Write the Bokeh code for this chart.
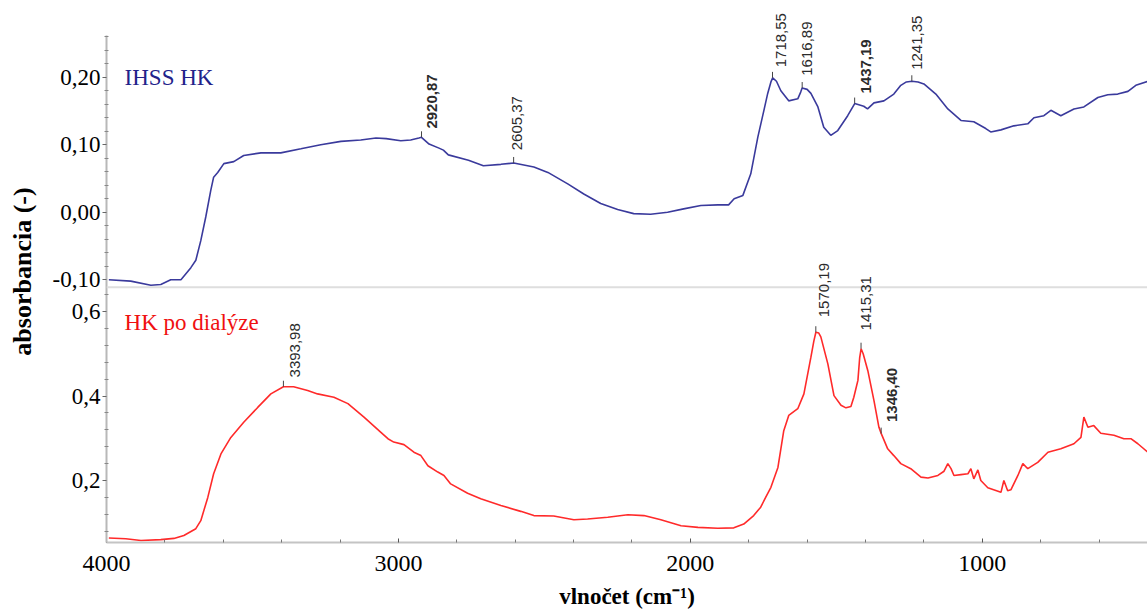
import math
from bokeh.plotting import figure
from bokeh.models import Range1d, FixedTicker, Span, Label, LabelSet, ColumnDataSource
from bokeh.core.properties import value
from bokeh.embed import file_html
from bokeh.resources import INLINE

# ---------------- data ----------------
IHSS_WN = [3992, 3917, 3848, 3814, 3780, 3745, 3711, 3694, 3677, 3660, 3643, 3633, 3619, 3598,
           3564, 3530, 3471, 3403, 3334, 3266, 3197, 3129, 3077, 3042, 2992, 2958, 2930, 2921,
           2895, 2861, 2846, 2829, 2760, 2709, 2649, 2605, 2536, 2488, 2420, 2365, 2307, 2249,
           2194, 2136, 2078, 2023, 1964, 1906, 1869, 1850, 1820, 1793, 1769, 1748, 1735, 1724,
           1718, 1705, 1690, 1663, 1632, 1622, 1617, 1600, 1587, 1563, 1543, 1519, 1495, 1461,
           1437, 1406, 1393, 1371, 1337, 1303, 1279, 1260, 1241, 1220, 1200, 1159, 1118, 1073,
           1029, 988, 971, 936, 892, 844, 823, 789, 765, 731, 686, 652, 604, 570, 536, 501, 474,
           433]
IHSS_ABS = [-0.100, -0.102, -0.108, -0.107, -0.100, -0.100, -0.082, -0.071, -0.042, -0.007,
            0.032, 0.052, 0.059, 0.072, 0.075, 0.084, 0.088, 0.088, 0.094, 0.100, 0.105, 0.107,
            0.110, 0.109, 0.106, 0.107, 0.110, 0.111, 0.101, 0.095, 0.092, 0.085, 0.077, 0.069,
            0.071, 0.073, 0.067, 0.059, 0.042, 0.027, 0.013, 0.004, -0.002, -0.003, 0.000, 0.005,
            0.010, 0.011, 0.011, 0.020, 0.025, 0.057, 0.111, 0.151, 0.176, 0.193, 0.199, 0.194,
            0.180, 0.165, 0.168, 0.178, 0.184, 0.182, 0.176, 0.156, 0.126, 0.114, 0.121, 0.143,
            0.161, 0.157, 0.153, 0.162, 0.165, 0.175, 0.188, 0.193, 0.194, 0.193, 0.190, 0.175,
            0.153, 0.136, 0.134, 0.124, 0.119, 0.122, 0.128, 0.131, 0.140, 0.143, 0.151, 0.143,
            0.153, 0.156, 0.170, 0.174, 0.175, 0.179, 0.188, 0.194]

DIAL_WN = [3992, 3934, 3882, 3814, 3769, 3735, 3694, 3677, 3653, 3633, 3608, 3574, 3530, 3482,
           3437, 3394, 3359, 3311, 3277, 3221, 3173, 3118, 3060, 3036, 3016, 2981, 2947, 2923,
           2899, 2865, 2844, 2821, 2763, 2718, 2649, 2581, 2536, 2468, 2399, 2352, 2283, 2214,
           2159, 2101, 2032, 1974, 1906, 1851, 1817, 1783, 1759, 1742, 1724, 1700, 1680, 1663,
           1632, 1611, 1587, 1577, 1570, 1560, 1553, 1529, 1508, 1484, 1467, 1450, 1440, 1426,
           1420, 1415, 1408, 1392, 1371, 1354, 1346, 1324, 1303, 1279, 1245, 1210, 1186, 1152,
           1131, 1118, 1107, 1097, 1073, 1049, 1039, 1029, 1015, 1005, 981, 936, 926, 913, 902,
           878, 861, 844, 810, 775, 731, 686, 662, 652, 638, 618, 594, 549, 515, 491, 467, 433]
DIAL_ABS = [0.064, 0.062, 0.058, 0.060, 0.063, 0.070, 0.086, 0.105, 0.160, 0.216, 0.263, 0.302,
            0.338, 0.373, 0.405, 0.422, 0.422, 0.413, 0.405, 0.397, 0.382, 0.350, 0.314, 0.299,
            0.291, 0.285, 0.267, 0.259, 0.235, 0.220, 0.212, 0.192, 0.170, 0.157, 0.141, 0.127,
            0.117, 0.116, 0.107, 0.109, 0.113, 0.119, 0.117, 0.107, 0.093, 0.089, 0.087, 0.088,
            0.097, 0.117, 0.137, 0.160, 0.184, 0.231, 0.318, 0.354, 0.370, 0.405, 0.492, 0.530,
            0.551, 0.549, 0.540, 0.476, 0.401, 0.378, 0.372, 0.375, 0.397, 0.437, 0.490, 0.512,
            0.500, 0.460, 0.389, 0.326, 0.311, 0.275, 0.259, 0.240, 0.228, 0.208, 0.206, 0.212,
            0.222, 0.240, 0.228, 0.212, 0.214, 0.216, 0.228, 0.204, 0.225, 0.200, 0.183, 0.172,
            0.200, 0.176, 0.178, 0.212, 0.240, 0.228, 0.243, 0.267, 0.275, 0.287, 0.302, 0.350,
            0.326, 0.330, 0.312, 0.307, 0.299, 0.299, 0.287, 0.267]

# peak annotations
IHSS_PEAK_WN = [2920.87, 2605.37, 1718.55, 1616.89, 1437.19, 1241.35]
IHSS_PEAK_ABS = [0.111, 0.073, 0.199, 0.184, 0.161, 0.194]
IHSS_PEAK_TXT = ["2920,87", "2605,37", "1718,55", "1616,89", "1437,19", "1241,35"]
DIAL_PEAK_WN = [3393.98, 1570.19, 1415.31, 1346.40]
DIAL_PEAK_ABS = [0.422, 0.551, 0.512, 0.311]
DIAL_PEAK_TXT = ["3393,98", "1570,19", "1415,31", "1346,40"]

# axis ticks / labels
X_TICKS = [4000, 3000, 2000, 1000]
X_MINOR = [3800, 3600, 3400, 3200, 2800, 2600, 2400, 2200, 1800, 1600, 1400, 1200, 800, 600]
TOP_TICKS = [-0.10, 0.00, 0.10, 0.20]
TOP_TICK_LABELS = ["-0,10", "0,00", "0,10", "0,20"]
TOP_MINOR = [-0.08, -0.06, -0.04, -0.02, 0.02, 0.04, 0.06, 0.08, 0.12, 0.14, 0.16, 0.18,
             0.22, 0.24, 0.26]
BOT_TICKS = [0.2, 0.4, 0.6]
BOT_TICK_LABELS = ["0,2", "0,4", "0,6"]
BOT_MINOR = [0.08, 0.12, 0.16, 0.24, 0.28, 0.32, 0.36, 0.44, 0.48, 0.52, 0.56, 0.64]

# ---------------- layout / style ----------------
FRAME_H = 542
X_START, X_END = 4000, 434
TOP_END = 0.3136
TOP_START = TOP_END - FRAME_H / 675.3      # upper panel scale over full frame
BOT_START = 0.0533
BOT_END = BOT_START + FRAME_H / 422.5      # lower panel scale over full frame
SEP = -0.1112                              # panel separator (upper-panel units)
AXIS_TOP = 0.262                           # top end of drawn y axis (upper-panel units)
TOP_PX = FRAME_H / (TOP_END - TOP_START)
BOT_PX = FRAME_H / (BOT_END - BOT_START)

BLUE = "#3a3a9c"
BLUE_TXT = "#22228a"
RED = "#ff2a2a"
RED_TXT = "#f01010"
SERIF = "Liberation Serif"


def to_top(v):
    return round(TOP_START + (v - BOT_START) * (TOP_END - TOP_START) / (BOT_END - BOT_START), 6)


p = figure(width=1147, height=611, x_range=Range1d(X_START, X_END),
           y_range=Range1d(TOP_START, TOP_END), output_backend="svg", toolbar_location=None,
           min_border_left=106, min_border_right=0, min_border_top=0, min_border_bottom=69)
p.extra_y_ranges = {"bot": Range1d(BOT_START, BOT_END)}
p.outline_line_color = None
p.xgrid.visible = False
p.ygrid.visible = False
p.background_fill_color = "white"
p.border_fill_color = "white"

# x axis
xa = p.xaxis[0]
xa.ticker = FixedTicker(ticks=X_TICKS, minor_ticks=X_MINOR)
xa.axis_line_color = "#c4c4c4"
xa.axis_line_width = 2
xa.major_tick_in = 4
xa.major_tick_out = 0
xa.major_tick_line_color = "#555555"
xa.minor_tick_in = 3
xa.minor_tick_out = 0
xa.minor_tick_line_color = "#777777"
xa.major_label_text_font = SERIF
xa.major_label_text_font_size = "24px"
xa.major_label_text_color = "black"
xa.major_label_standoff = 13
xa.axis_label = "vlnočet (cm⁻¹)"
xa.axis_label_text_font = SERIF
xa.axis_label_text_font_style = "bold"
xa.axis_label_text_font_size = "23px"
xa.axis_label_text_color = "black"
xa.axis_label_standoff = 10

# y axis (shared by both panels)
ya = p.yaxis[0]
y_pos = [round(v, 6) for v in TOP_TICKS] + [to_top(v) for v in BOT_TICKS]
y_lab = TOP_TICK_LABELS + BOT_TICK_LABELS
y_minor = [round(v, 6) for v in TOP_MINOR] + [to_top(v) for v in BOT_MINOR]
ya.ticker = FixedTicker(ticks=y_pos, minor_ticks=y_minor)
ya.major_label_overrides = {pos: lab for pos, lab in zip(y_pos, y_lab)}
ya.bounds = (TOP_START, AXIS_TOP)
ya.axis_line_color = "#b8b8b8"
ya.axis_line_width = 2
ya.major_tick_in = 0
ya.major_tick_out = 4
ya.major_tick_line_color = "#666666"
ya.minor_tick_in = 2
ya.minor_tick_out = 2
ya.minor_tick_line_color = "#888888"
ya.major_label_text_font = SERIF
ya.major_label_text_font_size = "23px"
ya.major_label_text_color = "black"
ya.major_label_standoff = 2
ya.axis_label = "absorbancia (-)"
ya.axis_label_text_font = SERIF
ya.axis_label_text_font_style = "bold"
ya.axis_label_text_font_size = "26px"
ya.axis_label_text_color = "black"
ya.axis_label_standoff = 13

# separator between panels
p.add_layout(Span(location=SEP, dimension="width", line_color="#dedede", line_width=2))

# spectra
p.line(IHSS_WN, IHSS_ABS, line_color=BLUE, line_width=1.6)
p.line(DIAL_WN, DIAL_ABS, line_color=RED, line_width=1.6, y_range_name="bot")

# panel titles
p.add_layout(Label(x=3938, y=0.200, text="IHSS HK", text_font=SERIF, text_font_size="23px",
                   text_color=BLUE_TXT, text_baseline="alphabetic"))
p.add_layout(Label(x=3938, y=0.575, y_range_name="bot", text="HK po dialýze", text_font=SERIF,
                   text_font_size="23px", text_color=RED_TXT, text_baseline="alphabetic"))

# peak markers
TICK_LEN = 6
IHSS_DX = [10, 3.5, 8.8, 5, 11, 5]
IHSS_DY = [8.7, 12.7, 10.6, 12.3, 10, 11.4]
IHSS_STYLE = ["bold", "normal", "normal", "normal", "bold", "normal"]
DIAL_DX = [12, 8, 5, 11]
DIAL_DY = [9.3, 15, 18.3, 11.6]
DIAL_STYLE = ["normal", "normal", "normal", "bold"]

p.segment(x0=IHSS_PEAK_WN, y0=IHSS_PEAK_ABS, x1=IHSS_PEAK_WN,
          y1=[v + TICK_LEN / TOP_PX for v in IHSS_PEAK_ABS], line_color="#444444", line_width=1)
p.segment(x0=DIAL_PEAK_WN, y0=DIAL_PEAK_ABS, x1=DIAL_PEAK_WN,
          y1=[v + TICK_LEN / BOT_PX for v in DIAL_PEAK_ABS], line_color="#444444", line_width=1,
          y_range_name="bot")

src_i = ColumnDataSource(dict(x=IHSS_PEAK_WN, y=IHSS_PEAK_ABS, t=IHSS_PEAK_TXT,
                              dx=IHSS_DX, dy=IHSS_DY, st=IHSS_STYLE))
src_d = ColumnDataSource(dict(x=DIAL_PEAK_WN, y=DIAL_PEAK_ABS, t=DIAL_PEAK_TXT,
                              dx=DIAL_DX, dy=DIAL_DY, st=DIAL_STYLE))
for src, rn in ((src_i, "default"), (src_d, "bot")):
    p.add_layout(LabelSet(x="x", y="y", text="t", source=src, x_offset="dx", y_offset="dy",
                          angle=math.pi / 2, text_align="left", text_baseline="middle",
                          text_font=value("Liberation Sans"), text_font_size=value("15px"),
                          text_font_style="st", text_color="#2b2b2b", y_range_name=rn))

open("out.html", "w").write(file_html(p, INLINE))
